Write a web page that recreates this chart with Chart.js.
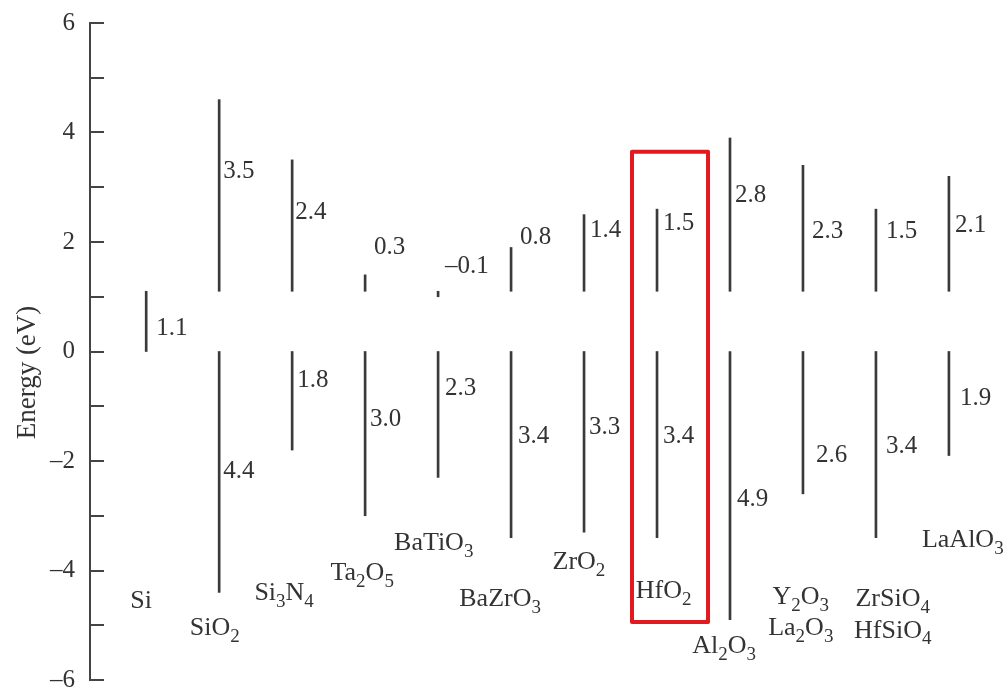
<!DOCTYPE html>
<html>
<head>
<meta charset="utf-8">
<script src="https://cdn.jsdelivr.net/npm/chart.js@4.4.1/dist/chart.umd.min.js"></script>
<style>
  html, body { margin: 0; padding: 0; background: #fff; }
  canvas { display: block; }
</style>
</head>
<body>
<canvas id="bands" width="1008" height="694"></canvas>
<script>
// Band line-up of gate dielectrics against silicon (eV)
const materials = ['Si', 'SiO2', 'Si3N4', 'Ta2O5', 'BaTiO3', 'BaZrO3', 'ZrO2', 'HfO2',
                   'Al2O3', 'Y2O3|La2O3', 'ZrSiO4|HfSiO4', 'LaAlO3'];
const siBandGap = 1.1;
// conduction-band offset above the Si conduction band edge (Si itself has none)
const conductionOffset = [null, 3.5, 2.4, 0.3, -0.1, 0.8, 1.4, 1.5, 2.8, 2.3, 1.5, 2.1];
// valence-band offset below the Si valence band edge
const valenceOffset = [null, 4.4, 1.8, 3.0, 2.3, 3.4, 3.3, 3.4, 4.9, 2.6, 3.4, 1.9];
const energyTicks = [-6, -4, -2, 0, 2, 4, 6];
const axisTitle = 'Energy (eV)';
const highlighted = 'HfO2';

const FONT = '"Liberation Serif", "Times New Roman", serif';
const INK = '#333333';
const BAR = '#3a3a3a';

const fmt = v => (v < 0 ? '\u2013' : '') + Math.abs(v).toFixed(1);

const gapData = [{ x: 0, y: [0, siBandGap] }];
const cbData = [], vbData = [], cbVals = [], vbVals = [];
materials.forEach((m, i) => {
  if (conductionOffset[i] !== null) {
    cbData.push({ x: i, y: [siBandGap, siBandGap + conductionOffset[i]] });
    cbVals.push(conductionOffset[i]);
  }
  if (valenceOffset[i] !== null) {
    vbData.push({ x: i, y: [-valenceOffset[i], 0] });
    vbVals.push(valenceOffset[i]);
  }
});

// draws a chemical formula with its digits as subscripts, centred on cx
function drawFormula(ctx, text, cx, cy, size) {
  const parts = text.match(/[A-Za-z]+|\d+/g);
  const mainFont = size + 'px ' + FONT;
  const subFont = Math.round(size * 0.72) + 'px ' + FONT;
  const widths = parts.map(p => {
    ctx.font = /\d/.test(p) ? subFont : mainFont;
    return ctx.measureText(p).width;
  });
  let px = cx - widths.reduce((a, b) => a + b, 0) / 2;
  ctx.textAlign = 'left';
  ctx.textBaseline = 'middle';
  parts.forEach((p, k) => {
    const isSub = /\d/.test(p);
    ctx.font = isSub ? subFont : mainFont;
    ctx.fillText(p, px, cy + (isSub ? size * 0.33 : 0));
    px += widths[k];
  });
}

const bandAnnotations = {
  id: 'bandAnnotations',
  afterDatasetsDraw(chart, args, opts) {
    const { ctx, chartArea, scales: { x, y } } = chart;
    ctx.save();

    // tick marks pointing into the plot
    ctx.strokeStyle = opts.axisColor;
    ctx.lineWidth = 2;
    for (let v = y.min; v <= y.max; v += 1) {
      const py = Math.round(y.getPixelForValue(v));
      ctx.beginPath();
      ctx.moveTo(chartArea.left, py);
      ctx.lineTo(chartArea.left + opts.tickLength, py);
      ctx.stroke();
    }

    // vertical axis title
    ctx.fillStyle = INK;
    ctx.save();
    ctx.translate(opts.titleX, (chartArea.top + chartArea.bottom) / 2 + opts.titleShift);
    ctx.rotate(-Math.PI / 2);
    ctx.font = opts.titleSize + 'px ' + FONT;
    ctx.textAlign = 'center';
    ctx.textBaseline = 'middle';
    ctx.fillText(axisTitle, 0, 0);
    ctx.restore();

    // offset value beside each bar
    ctx.font = opts.valueSize + 'px ' + FONT;
    ctx.textAlign = 'left';
    ctx.textBaseline = 'middle';
    chart.data.datasets.forEach((ds, di) => {
      const place = opts.valueLabels[di];
      chart.getDatasetMeta(di).data.forEach((bar, k) => {
        ctx.fillText(fmt(ds.values[k]), bar.x + place.dx[k], y.getPixelForValue(place.at[k]));
      });
    });

    // material names
    materials.forEach((name, i) => {
      const pos = opts.names[i];
      name.split('|').forEach((line, j) => {
        drawFormula(ctx, line, x.getPixelForValue(pos.x), y.getPixelForValue(pos.y[j]), opts.nameSize);
      });
    });

    // frame around the highlighted material
    const h = opts.highlight;
    const hi = materials.indexOf(highlighted);
    const l = x.getPixelForValue(hi + h.left), r = x.getPixelForValue(hi + h.right);
    const t = y.getPixelForValue(h.top), b = y.getPixelForValue(h.bottom);
    ctx.strokeStyle = h.color;
    ctx.lineWidth = h.width;
    ctx.lineJoin = 'round';
    ctx.strokeRect(l, t, r - l, b - t);
    ctx.restore();
  }
};

const barStyle = { backgroundColor: BAR, borderWidth: 0, barThickness: 2, grouped: false };

new Chart(document.getElementById('bands'), {
  type: 'bar',
  data: {
    datasets: [
      Object.assign({ label: 'Si band gap', data: gapData, values: [siBandGap] }, barStyle),
      Object.assign({ label: 'Conduction band offset', data: cbData, values: cbVals }, barStyle),
      Object.assign({ label: 'Valence band offset', data: vbData, values: vbVals }, barStyle)
    ]
  },
  options: {
    responsive: false,
    animation: false,
    devicePixelRatio: 1,
    layout: { padding: { top: 23, right: 8, bottom: 14, left: 0 } },
    scales: {
      x: { type: 'linear', offset: false, min: -0.77, max: 11.70, display: false },
      y: {
        min: -6, max: 6,
        afterFit(scale) {
          scale.width = 90;
          scale.paddingTop = 0;
          scale.paddingBottom = 0;
        },
        border: { display: true, color: '#444', width: 2 },
        grid: { display: false, drawTicks: false },
        ticks: {
          stepSize: 1, autoSkip: false, padding: 15, color: INK,
          font: { family: FONT, size: 25 },
          callback: v => energyTicks.includes(v) ? (v < 0 ? '\u2013' + Math.abs(v) : String(v)) : ''
        }
      }
    },
    plugins: {
      legend: { display: false },
      tooltip: { enabled: false },
      bandAnnotations: {
        axisColor: '#444',
        tickLength: 14,
        titleX: 28,
        titleShift: 21,
        titleSize: 27,
        valueSize: 25,
        nameSize: 26,
        valueLabels: [
          { at: [0.42], dx: [10] },
          { at: [3.29, 2.54, 1.90, 1.55, 2.08, 2.21, 2.34, 2.85, 2.19, 2.19, 2.30],
            dx: [4, 3, 9, 7, 9, 6, 6, 5, 9, 10, 6] },
          { at: [-2.19, -0.53, -1.24, -0.68, -1.55, -1.39, -1.55, -2.71, -1.90, -1.74, -0.86],
            dx: [4, 5, 5, 7, 7, 5, 6, 7, 13, 10, 11] }
        ],
        names: [
          { x: -0.07, y: [-4.56] },
          { x: 0.94, y: [-5.05] },
          { x: 1.89, y: [-4.42] },
          { x: 2.96, y: [-4.05] },
          { x: 3.94, y: [-3.50] },
          { x: 4.85, y: [-4.52] },
          { x: 5.93, y: [-3.85] },
          { x: 7.09, y: [-4.38] },
          { x: 7.92, y: [-5.38] },
          { x: 8.97, y: [-4.49, -5.05] },
          { x: 10.23, y: [-4.52, -5.10] },
          { x: 11.19, y: [-3.45] }
        ],
        highlight: { left: -0.343, right: 0.699, top: 3.65, bottom: -4.94, color: '#e01a1f', width: 4 }
      }
    }
  },
  plugins: [bandAnnotations]
});
</script>
</body>
</html>
